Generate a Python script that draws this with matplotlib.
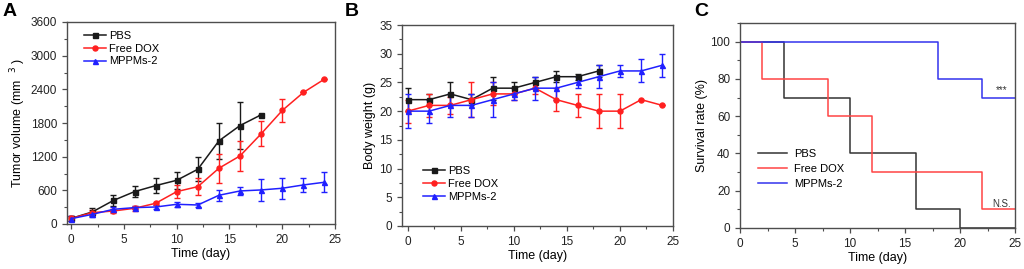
import matplotlib
matplotlib.use("Agg")
import matplotlib.pyplot as plt
from matplotlib.ticker import AutoMinorLocator
from matplotlib.lines import Line2D
import numpy as np

plt.rcParams['font.family'] = ['Liberation Sans', 'DejaVu Sans']

# ---- Panel A: tumor volume ----
a_days_pbs = [0, 2, 4, 6, 8, 10, 12, 14, 16, 18]
a_pbs = [100, 215, 420, 577, 684, 779, 976, 1482, 1755, 1946]
a_pbs_err = [40, 65, 95, 100, 130, 155, 214, 315, 417, 0]
a_days = [0, 2, 4, 6, 8, 10, 12, 14, 16, 18, 20, 22, 24]
a_dox = [100, 202, 232, 280, 369, 577, 666, 994, 1214, 1607, 2023, 2344, 2582]
a_dox_err = [40, 40, 40, 40, 30, 120, 150, 255, 268, 220, 200, 0, 0]
a_mppm = [95, 172, 262, 292, 303, 351, 339, 512, 589, 607, 637, 696, 744]
a_mppm_err = [40, 40, 40, 30, 30, 40, 30, 95, 75, 190, 190, 120, 175]

# ---- Panel B: body weight ----
b_days_pbs = [0, 2, 4, 6, 8, 10, 12, 14, 16, 18]
b_pbs = [22, 22, 23, 22, 24, 24, 25, 26, 26, 27]
b_pbs_err = [2, 1, 2, 1, 2, 1, 1, 1, 0.5, 1]
b_days = [0, 2, 4, 6, 8, 10, 12, 14, 16, 18, 20, 22, 24]
b_dox = [20, 21, 21, 22, 23, 23, 24, 22, 21, 20, 20, 22, 21]
b_dox_err = [2, 2, 1.5, 3, 2, 1, 1, 2, 2, 3, 3, 0, 0]
b_mppm = [20, 20, 21, 21, 22, 23, 24, 24, 25, 26, 27, 27, 28]
b_mppm_err = [3, 2, 2, 2, 3, 1, 2, 2, 1, 2, 1, 2, 2]

# ---- Panel C: survival ----
c_pbs_t = [0, 4, 10, 16, 20, 25]
c_pbs_s = [100, 70, 40, 10, 0, 0]
c_dox_t = [0, 2, 8, 12, 22, 25]
c_dox_s = [100, 80, 60, 30, 10, 10]
c_mppm_t = [0, 18, 22, 25]
c_mppm_s = [100, 80, 70, 70]

labels = ["PBS", "Free DOX", "MPPMs-2"]
BLACK = "#1a1a1a"
RED = "#ff2020"
BLUE = "#2020ff"
SPINE = "#4d4d4d"

fig = plt.figure(figsize=(10.24, 2.69), dpi=100)
W, H = 1024, 269

def add_ax(l, t, r, b):
    return fig.add_axes([l / W, 1 - b / H, (r - l) / W, (b - t) / H])

axA = add_ax(67, 22, 335, 224)
axB = add_ax(402, 25, 673, 226)
axC = add_ax(740, 23, 1015, 228)

def style(ax):
    for s in ax.spines.values():
        s.set_color(SPINE)
        s.set_linewidth(1.0)
    ax.tick_params(which='both', direction='out', top=False, right=False,
                   color=SPINE, labelsize=8.5, labelcolor='#222222')
    ax.tick_params(which='major', length=3.5, width=0.9)
    ax.tick_params(which='minor', length=2, width=0.8)
    ax.xaxis.set_minor_locator(AutoMinorLocator(2))
    ax.yaxis.set_minor_locator(AutoMinorLocator(2))

MS = 3.6
ekw = dict(capsize=2.2, elinewidth=1.0, capthick=1.0, lw=1.1, markersize=MS)

def handles():
    return [Line2D([], [], color=BLACK, marker='s', markersize=MS, lw=1.1),
            Line2D([], [], color=RED, marker='o', markersize=MS, lw=1.1),
            Line2D([], [], color=BLUE, marker='^', markersize=MS, lw=1.1)]

# Panel A
axA.errorbar(a_days_pbs, a_pbs, yerr=a_pbs_err, color=BLACK, marker='s', **ekw)
axA.errorbar(a_days, a_dox, yerr=a_dox_err, color=RED, marker='o', **ekw)
axA.errorbar(a_days, a_mppm, yerr=a_mppm_err, color=BLUE, marker='^', **ekw)
axA.set_xlim(-0.4, 25)
axA.set_ylim(0, 3600)
axA.set_yticks(np.arange(0, 3601, 600))
axA.set_xticks([0, 5, 10, 15, 20, 25])
style(axA)
axA.set_xlabel("Time (day)", fontsize=9, labelpad=2)
axA.set_ylabel("Tumor volume (mm  $^{3}$ )", fontsize=9, labelpad=2)
axA.legend(handles(), labels, loc='upper left', frameon=False, fontsize=8,
           handlelength=2.0, handletextpad=0.3, labelspacing=0.25,
           borderaxespad=0.4, bbox_to_anchor=(0.03, 1.0))

# Panel B
axB.errorbar(b_days_pbs, b_pbs, yerr=b_pbs_err, color=BLACK, marker='s', **ekw)
axB.errorbar(b_days, b_dox, yerr=b_dox_err, color=RED, marker='o', **ekw)
axB.errorbar(b_days, b_mppm, yerr=b_mppm_err, color=BLUE, marker='^', **ekw)
axB.set_xlim(-0.55, 25)
axB.set_ylim(0, 35)
axB.set_yticks(np.arange(0, 36, 5))
axB.set_xticks([0, 5, 10, 15, 20, 25])
style(axB)
axB.set_xlabel("Time (day)", fontsize=9, labelpad=2)
axB.set_ylabel("Body weight (g)", fontsize=9, labelpad=2)
axB.legend(handles(), labels, loc='lower left', frameon=False, fontsize=8,
           handlelength=2.0, handletextpad=0.3, labelspacing=0.25,
           bbox_to_anchor=(0.04, 0.07))

# Panel C
axC.step(c_pbs_t, c_pbs_s, where='post', color="#333333", lw=1.1, label=labels[0])
axC.step(c_dox_t, c_dox_s, where='post', color="#ff4444", lw=1.1, label=labels[1])
axC.step(c_mppm_t, c_mppm_s, where='post', color="#3333ee", lw=1.1, label=labels[2])
axC.set_xlim(0, 25)
axC.set_ylim(0, 110)
axC.set_yticks(np.arange(0, 101, 20))
axC.set_xticks([0, 5, 10, 15, 20, 25])
style(axC)
axC.set_xlabel("Time (day)", fontsize=9, labelpad=2)
axC.set_ylabel("Survival rate (%)", fontsize=9, labelpad=2)
axC.legend(loc='center left', frameon=False, fontsize=8, handlelength=2.6,
           handletextpad=0.6, labelspacing=0.45, bbox_to_anchor=(0.03, 0.29))
axC.text(23.8, 74, "***", fontsize=7, ha='center', va='center', color='#333333')
axC.text(23.8, 13, "N.S.", fontsize=7, ha='center', va='center', color='#333333')

# Panel letters
fig.text(3 / W, 1 - 12 / H, "A", fontsize=14, fontweight='bold', va='center', ha='left')
fig.text(345 / W, 1 - 12 / H, "B", fontsize=14, fontweight='bold', va='center', ha='left')
fig.text(694 / W, 1 - 12 / H, "C", fontsize=14, fontweight='bold', va='center', ha='left')

fig.savefig("out.png", dpi=100)
